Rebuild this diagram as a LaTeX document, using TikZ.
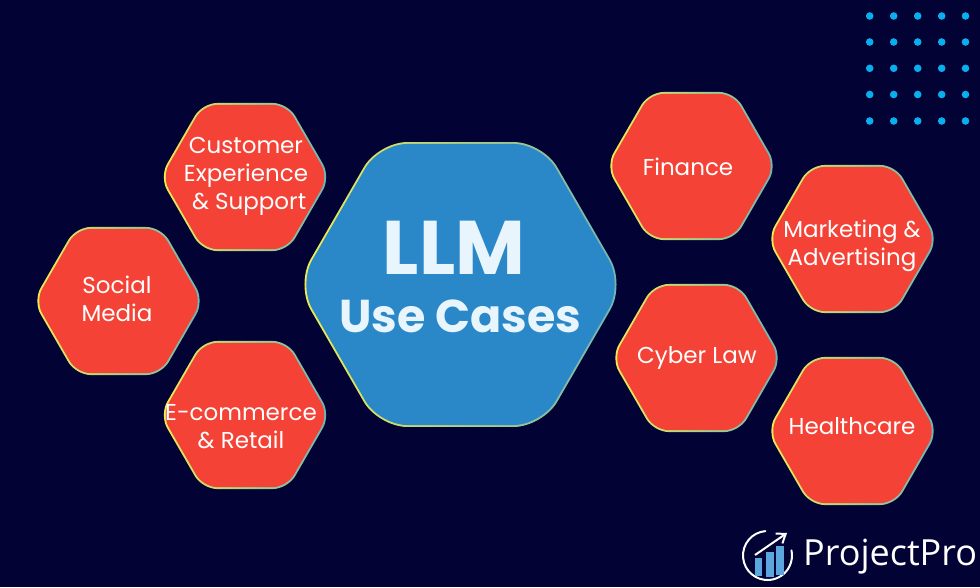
\documentclass[tikz,border=0pt]{standalone}
\usepackage{fontspec}
\setmainfont{Poppins}
\newfontfamily\logofont{Open Sans}
\usetikzlibrary{shapes.geometric,arrows.meta}
\definecolor{navy}{HTML}{020235}
\definecolor{hexred}{HTML}{F44336}
\definecolor{hexblue}{HTML}{2B88C8}
\definecolor{rimyellow}{HTML}{F2EC50}
\definecolor{rimteal}{HTML}{6CB4B8}
\definecolor{dotblue}{HTML}{08AEEE}
\definecolor{barblue}{HTML}{5CA6DE}
\definecolor{pale}{HTML}{E8F5FD}
\tikzset{>=latex}
\tikzset{
	hexshape/.style={regular polygon, regular polygon sides=6, inner sep=0pt, outer sep=0pt},
	smallrim/.style={hexshape, minimum size=171pt, rounded corners=15pt, left color=rimyellow, right color=rimteal},
	smallhex/.style={hexshape, minimum size=166.6pt, rounded corners=14pt, fill=hexred},
	bigrim/.style={hexshape, minimum size=329pt, rounded corners=29pt, left color=rimyellow, right color=rimteal},
	bighex/.style={hexshape, minimum size=324.6pt, rounded corners=28pt, fill=hexblue},
	label/.style={align=center, text=white, font=\fontsize{23}{28}\selectfont},
}

\begin{document}
\begin{tikzpicture}[x=1pt, y=-1pt]

	\useasboundingbox (0,0) rectangle (980,587);
	\fill[navy] (0,0) rectangle (980,587);

	% dot grid, top right
	\foreach \dotx in {869.7,893.7,917.7,941.7,965.5} {
		\foreach \doty in {16,42,68.3,94.5,121} {
			\fill[dotblue] (\dotx,\doty) circle (3.8pt);
		}
	}

	\node (llm-rim) [bigrim] at (460.5,284.5) {};
	\node (llm-box) [bighex] at (460.5,284.5) {};
	\node (llm) [text=pale, align=center, font=\fontsize{76}{76}\selectfont\bfseries] at (454,248) {LLM};
	\node (usecases) [text=pale, align=center, font=\fontsize{46}{46}\selectfont\bfseries] at (460.5,316) {Use Cases};

	\node (customer-rim) [smallrim] at (245,177) {};
	\node (customer-box) [smallhex] at (245,177) {};
	\node (customer) [label] at (246,176) {Customer\\Experience\\\ \& Support};

	\node (social-rim) [smallrim] at (118.5,301) {};
	\node (social-box) [smallhex] at (118.5,301) {};
	\node (social) [label] at (117,299) {Social\\Media};

	\node (ecommerce-rim) [smallrim] at (245,415) {};
	\node (ecommerce-box) [smallhex] at (245,415) {};
	\node (ecommerce) [label] at (241,427) {E-commerce\\\& Retail};

	\node (finance-rim) [smallrim] at (691.5,166) {};
	\node (finance-box) [smallhex] at (691.5,166) {};
	\node (finance) [label] at (688,167) {Finance};

	\node (marketing-rim) [smallrim] at (852.5,239) {};
	\node (marketing-box) [smallhex] at (852.5,239) {};
	\node (marketing) [label] at (852,246) {Marketing \&\\Advertising};

	\node (cyber-rim) [smallrim] at (696.5,358) {};
	\node (cyber-box) [smallhex] at (696.5,358) {};
	\node (cyber) [label] at (697,358) {Cyber Law};

	\node (health-rim) [smallrim] at (852.5,431) {};
	\node (health-box) [smallhex] at (852.5,431) {};
	\node (health) [label] at (852,426) {Healthcare};

	% logo
	\coordinate (logo-c) at (767.5,555.5);
	\draw[white, line width=2pt, line cap=round] (logo-c) ++(-95:24.5) arc (-95:-372:24.5);
	\fill[barblue] (755,558) rectangle (762,576);
	\fill[barblue] (766,552) rectangle (773.5,577);
	\fill[barblue] (776,546) rectangle (783.5,575);
	\draw[white, line width=2pt, -{Straight Barb[length=8pt,width=12pt]}] (755,555) -- (787,533);
	\node (projectpro) [anchor=base west, inner sep=0pt, text=white, font=\logofont\fontsize{36}{36}\selectfont] at (803,565) {ProjectPro};

\end{tikzpicture}
\end{document}
